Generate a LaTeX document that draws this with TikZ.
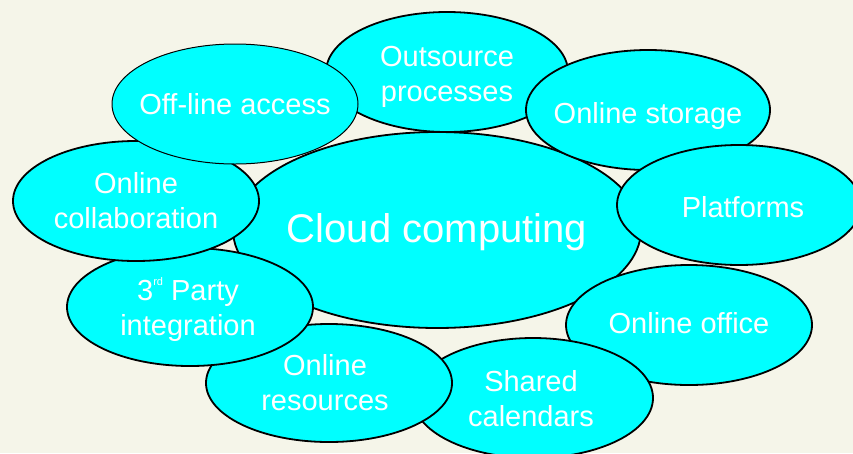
\documentclass[tikz,border=0pt]{standalone}
\usepackage{fontspec}
\setmainfont{Liberation Sans}
\definecolor{bgcream}{RGB}{245,245,233}
\definecolor{cloudcyan}{RGB}{0,255,255}

\begin{document}
\begin{tikzpicture}[
    x=1pt, y=-1pt, % pixel-like units, y grows downwards
    bubble/.style={
        draw=black, % black border
        line width=1.8pt,
        fill=cloudcyan % bright cyan fill
    },
    thinbubble/.style={bubble, line width=1pt},
    tag/.style={
        text=white, % white labels
        align=center, % centre the lines
        inner sep=0pt,
        font=\fontsize{29}{35}\selectfont
    },
    hubtag/.style={tag, font=\fontsize{40}{48}\selectfont} % the big one in the middle
]
\fill[bgcream] (0,0) rectangle (853,453);
\useasboundingbox (0,0) rectangle (853,453);
\clip (0,0) rectangle (853,453);

% centre first, the rest on top of it
\path[bubble] (437,230) ellipse [x radius=204pt, y radius=98pt]
    node[hubtag, yshift=-2pt] (cloud) {Cloud computing};
\path[bubble] (447,72) ellipse [x radius=121pt, y radius=60pt]
    node[tag, yshift=-5pt] (outsource) {Outsource\\processes};
\path[bubble] (648,110) ellipse [x radius=122pt, y radius=60pt]
    node[tag, yshift=-6pt] (storage) {Online storage};
\path[bubble] (739,205) ellipse [x radius=122pt, y radius=60pt]
    node[tag, xshift=4pt, yshift=-2pt] (platforms) {Platforms};
\path[bubble] (689,325) ellipse [x radius=123pt, y radius=60pt]
    node[tag, yshift=2pt] (office) {Online office};
\path[bubble] (533,398) ellipse [x radius=120pt, y radius=60pt]
    node[tag, xshift=-2pt, yshift=-1pt] (calendars) {Shared\\calendars};
\path[bubble] (329,383) ellipse [x radius=123pt, y radius=59pt]
    node[tag, xshift=-4pt] (resources) {Online\\resources};
\path[bubble] (190,307) ellipse [x radius=123pt, y radius=59pt]
    node[tag, xshift=-2pt, yshift=-3pt] (party) {3\raisebox{15pt}{\fontsize{11}{11}\selectfont rd} Party\\integration};
\path[bubble] (136,201) ellipse [x radius=123pt, y radius=60pt]
    node[tag] (collab) {Online\\collaboration};
\path[thinbubble] (235,104) ellipse [x radius=123pt, y radius=60pt]
    node[tag] (offline) {Off-line access};
\end{tikzpicture}
\end{document}
